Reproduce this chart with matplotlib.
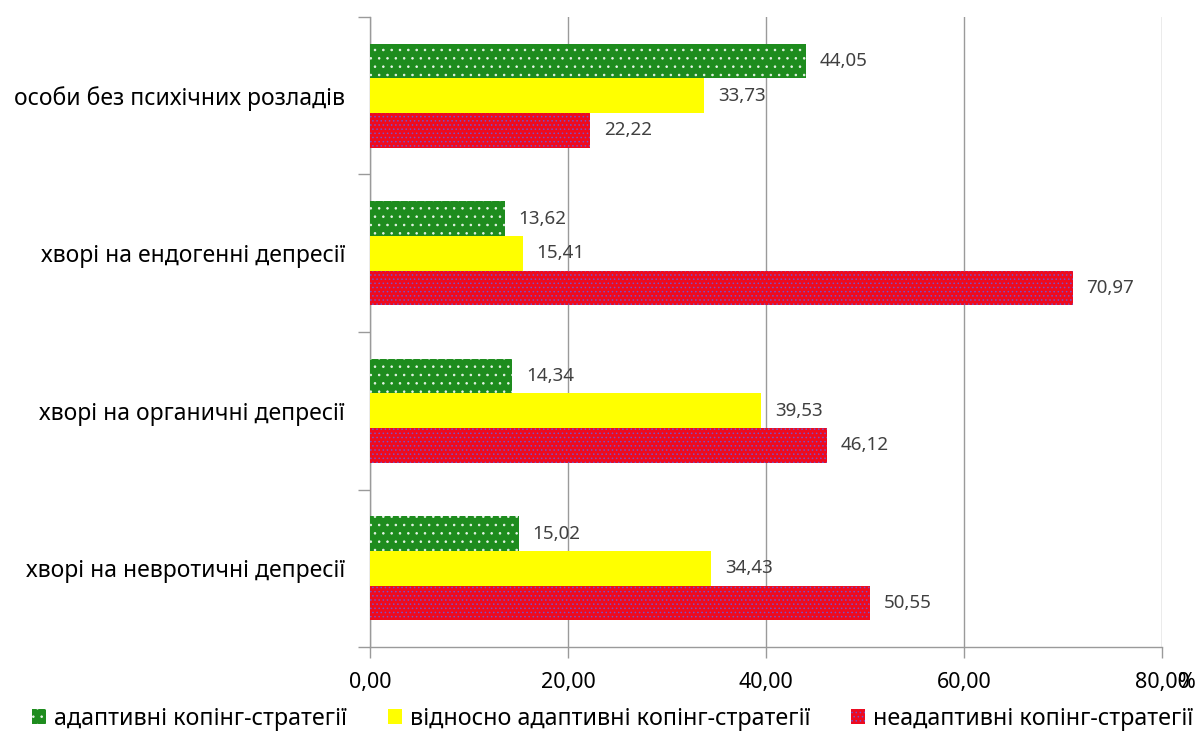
import matplotlib
matplotlib.use("Agg")
import matplotlib.pyplot as plt
import numpy as np
from matplotlib.patches import Patch

categories = [
    "особи без психічних розладів",
    "хворі на ендогенні депресії",
    "хворі на органичні депресії",
    "хворі на невротичні депресії",
]
series_names = [
    "адаптивні копінг-стратегії",
    "відносно адаптивні копінг-стратегії",
    "неадаптивні копінг-стратегії",
]
adaptive = [44.05, 13.62, 14.34, 15.02]
relatively_adaptive = [33.73, 15.41, 39.53, 34.43]
maladaptive = [22.22, 70.97, 46.12, 50.55]
x_ticks = [0, 20, 40, 60, 80]
x_tick_labels = ["0,00", "20,00", "40,00", "60,00", "80,00"]

plt.rcParams["font.family"] = ["Noto Sans", "DejaVu Sans"]
plt.rcParams["hatch.linewidth"] = 0.6

fig = plt.figure(figsize=(11.99, 7.35), dpi=100)
ax = fig.add_axes([0.3086, 0.1197, 0.9691 - 0.3086, 0.9769 - 0.1197])

series = [adaptive, relatively_adaptive, maladaptive]
faces = ["#1e8c1e", "#ffff00", "#ee0a1e"]
hatch_colors = ["#e8f5e8", "#ffff00", "#7a50c8"]
hatches = ["..", None, "...."]
bar_h = 0.22
offsets = [-bar_h, 0.0, bar_h]

y = np.arange(len(categories))
for vals, fc, hc, hp, off in zip(series, faces, hatch_colors, hatches, offsets):
    ax.barh(y + off, vals, height=bar_h, color=fc, edgecolor=hc,
            linewidth=0, hatch=hp, zorder=3)
    for yi, v in zip(y, vals):
        ax.text(v + 1.4, yi + off, f"{v:.2f}".replace(".", ","),
                va="center", ha="left", fontsize=13.5, color="#404040",
                zorder=4)

ax.set_xlim(0, 80)
ax.set_ylim(len(categories) - 0.5, -0.5)
ax.set_xticks(x_ticks)
ax.set_xticklabels(x_tick_labels, fontsize=15.5)
ax.set_yticks(y)
ax.set_yticklabels(categories, fontsize=16.5)
ax.set_yticks(np.arange(len(categories) + 1) - 0.5, minor=True)
ax.tick_params(axis="y", which="major", length=0, pad=18)
ax.tick_params(axis="y", which="minor", length=9, color="#9a9a9a", width=1)
ax.tick_params(axis="x", which="major", length=8, color="#9a9a9a", width=1, pad=10)

ax.grid(axis="x", color="#9a9a9a", linewidth=1, zorder=0)
for side in ["top", "right"]:
    ax.spines[side].set_visible(False)
for side in ["left", "bottom"]:
    ax.spines[side].set_color("#9a9a9a")
    ax.spines[side].set_linewidth(1)

fig.text(0.997, 0.071, "%", fontsize=15.5, ha="right", va="center")

handles = [Patch(facecolor=fc, edgecolor=hc, linewidth=0, hatch=hp)
           for fc, hc, hp in zip(faces, hatch_colors, hatches)]
fig.legend(handles, series_names, loc="center", bbox_to_anchor=(0.511, 0.022),
           ncol=3, frameon=False, fontsize=16.8, handlelength=0.6,
           handleheight=0.6, handletextpad=0.35, columnspacing=1.75)

fig.savefig("out.png", dpi=100)
